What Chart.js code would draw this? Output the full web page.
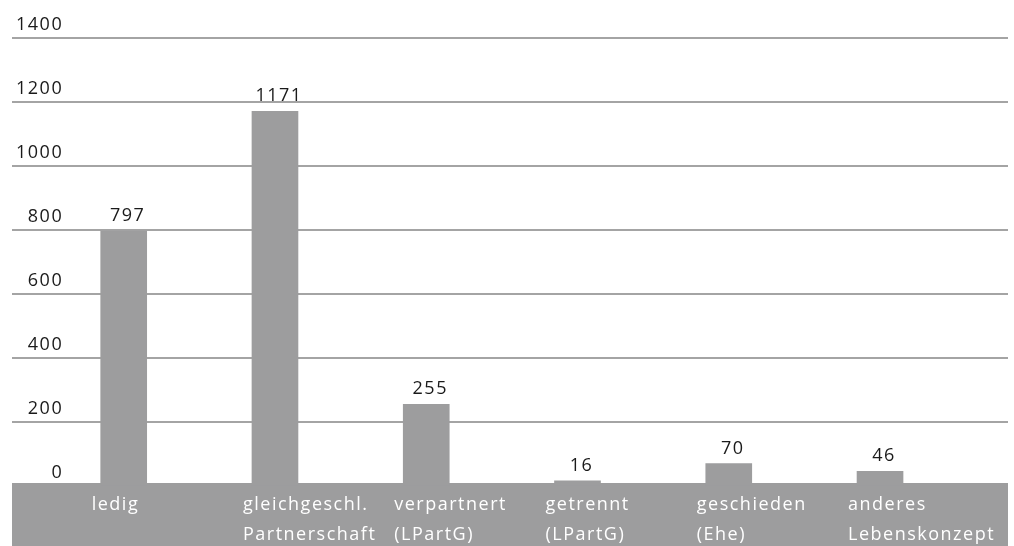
<!DOCTYPE html>
<html>
<head>
<meta charset="utf-8">
<script src="https://cdn.jsdelivr.net/npm/chart.js@4/dist/chart.umd.min.js"></script>
<style>
  html, body { margin: 0; padding: 0; background: #ffffff; }
  canvas { display: block; }
</style>
</head>
<body>
<canvas id="c" width="1014" height="546"></canvas>
<script>
// ---- data ----
const categories = [
  ['ledig'],
  ['gleichgeschl.', 'Partnerschaft'],
  ['verpartnert', '(LPartG)'],
  ['getrennt', '(LPartG)'],
  ['geschieden', '(Ehe)'],
  ['anderes', 'Lebenskonzept']
];
const values = [797, 1171, 255, 16, 70, 46];
const yTickValues = [0, 200, 400, 600, 800, 1000, 1200, 1400];

// ---- styles ----
const GREY = '#9d9d9e';
const FONT = '"Open Sans", "Noto Sans", sans-serif';
const SPACING = '1.5px';

const spacingPlugin = {
  id: 'spacing',
  beforeUpdate(chart) { chart.ctx.letterSpacing = SPACING; },
  beforeDraw(chart) { chart.ctx.letterSpacing = SPACING; }
};

const bandPlugin = {
  id: 'band',
  beforeDraw(chart) {
    const { ctx, chartArea } = chart;
    ctx.save();
    ctx.fillStyle = GREY;
    ctx.fillRect(chartArea.left, chartArea.bottom - 3, chartArea.right - chartArea.left, chart.height - chartArea.bottom + 3);
    ctx.restore();
  }
};

const valueLabelPlugin = {
  id: 'valueLabels',
  afterDatasetsDraw(chart) {
    const { ctx } = chart;
    const meta = chart.getDatasetMeta(0);
    ctx.save();
    ctx.letterSpacing = SPACING;
    ctx.font = '18px ' + FONT;
    ctx.fillStyle = '#1a1a1a';
    ctx.textAlign = 'center';
    ctx.textBaseline = 'alphabetic';
    meta.data.forEach((bar, i) => {
      ctx.fillText(String(values[i]), bar.x + 4, bar.y - 10);
    });
    ctx.restore();
  }
};

new Chart(document.getElementById('c'), {
  type: 'bar',
  data: {
    datasets: [{
      data: values.map((v, i) => ({ x: i, y: v })),
      backgroundColor: GREY,
      borderWidth: 0,
      barThickness: 46
    }]
  },
  plugins: [spacingPlugin, bandPlugin, valueLabelPlugin],
  options: {
    responsive: false,
    animation: false,
    layout: { padding: { left: 12, right: 6, top: 38, bottom: 0 } },
    plugins: { legend: { display: false }, tooltip: { enabled: false } },
    scales: {
      x: {
        type: 'linear',
        offset: false,
        bounds: 'data',
        min: -0.7385,
        max: 5.846,
        grid: { display: false, drawTicks: false, offset: false },
        border: { display: false },
        afterBuildTicks(scale) { scale.ticks = categories.map((c, i) => ({ value: i })); },
        afterFit(scale) {
          scale.height = 60;
          scale.paddingLeft = 0; scale.paddingRight = 0;
        },
        ticks: {
          align: 'start',
          labelOffset: -32,
          padding: 4,
          color: '#ffffff',
          font: { family: FONT, size: 18, lineHeight: 1.65 },
          maxRotation: 0,
          autoSkip: false,
          callback: (v) => categories[v]
        }
      },
      y: {
        min: 0,
        max: 1400,
        afterBuildTicks(scale) { scale.ticks = yTickValues.map(v => ({ value: v })); },
        afterFit(scale) {
          scale.width = 0;
          scale.paddingTop = 0; scale.paddingBottom = 0;
        },
        grid: {
          color: (ctx) => ctx.tick && ctx.tick.value === 0 ? 'rgba(0,0,0,0)' : '#a4a4a4',
          lineWidth: 2,
          drawTicks: false
        },
        border: { display: false },
        ticks: {
          mirror: true,
          crossAlign: 'far',
          align: 'end',
          labelOffset: -4,
          padding: 4,
          color: '#1a1a1a',
          font: { family: FONT, size: 18 },
          callback: (v) => String(v)
        }
      }
    }
  }
});
</script>
</body>
</html>
